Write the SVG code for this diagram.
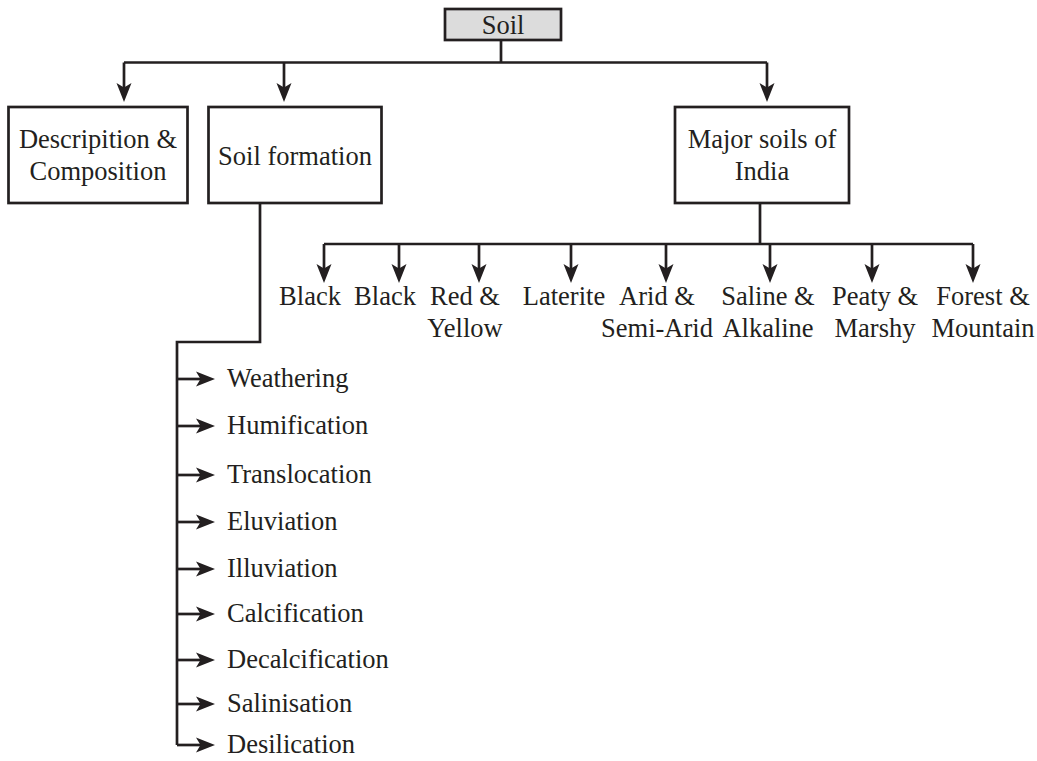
<svg xmlns="http://www.w3.org/2000/svg" width="1037" height="761" viewBox="0 0 1037 761">
  <style>
    .box { fill: #ffffff; stroke: #231f20; stroke-width: 2.7; }
    .root { fill: #dcdcdc; stroke: #231f20; stroke-width: 2.7; }
    .wire { fill: none; stroke: #231f20; stroke-width: 2.7; }
    .arr { fill: none; stroke: #231f20; stroke-width: 2.7; marker-end: url(#head); }
    text { font-family: "Liberation Serif", "Times New Roman", serif; font-size: 26.5px; fill: #231f20; }
    .c { text-anchor: middle; }
  </style>
  <defs>
    <marker id="head" markerUnits="userSpaceOnUse" viewBox="-14 -9 24 18" markerWidth="24" markerHeight="18" refX="0" refY="0" orient="auto">
      <path d="M8,0 L-11,-7.5 L-6.5,0 L-11,7.5 Z" fill="#231f20"/>
    </marker>
  </defs>

  <g id="connectors">
    <!-- root to first level -->
    <path class="wire" d="M501,40 V62.5 M124,62.5 H767"/>
    <path class="arr" d="M124,62.5 V94"/>
    <path class="arr" d="M284,62.5 V94"/>
    <path class="arr" d="M767,62.5 V94"/>
    <!-- major soils fan-out -->
    <path class="wire" d="M760,203 V244 M324,244 H973"/>
    <path class="arr" d="M324,244 V275"/>
    <path class="arr" d="M399,244 V275"/>
    <path class="arr" d="M479,244 V275"/>
    <path class="arr" d="M571,244 V275"/>
    <path class="arr" d="M666,244 V275"/>
    <path class="arr" d="M770,244 V275"/>
    <path class="arr" d="M872,244 V275"/>
    <path class="arr" d="M973,244 V275"/>
    <!-- soil formation processes -->
    <path class="wire" d="M260,203 V342 H177 V745"/>
    <path class="arr" d="M177,379 H207"/>
    <path class="arr" d="M177,426 H207"/>
    <path class="arr" d="M177,475 H207"/>
    <path class="arr" d="M177,522 H207"/>
    <path class="arr" d="M177,569 H207"/>
    <path class="arr" d="M177,614 H207"/>
    <path class="arr" d="M177,660 H207"/>
    <path class="arr" d="M177,704 H207"/>
    <path class="arr" d="M177,745 H207"/>
  </g>

  <g id="soil">
    <rect class="root" x="445" y="9" width="116" height="31"/>
    <text class="c" x="503" y="34">Soil</text>
  </g>

  <g id="description">
    <rect class="box" x="8.5" y="107" width="179" height="96"/>
    <text class="c" x="98" y="148">Descripition &amp;</text>
    <text class="c" x="98" y="180">Composition</text>
  </g>

  <g id="formation">
    <rect class="box" x="208.5" y="107" width="173" height="96"/>
    <text class="c" x="295" y="165">Soil formation</text>
  </g>

  <g id="major">
    <rect class="box" x="675" y="107" width="174" height="96"/>
    <text class="c" x="762" y="148">Major soils of</text>
    <text class="c" x="762" y="180">India</text>
  </g>

  <g id="soil-types">
    <text class="c" x="310" y="305">Black</text>
    <text class="c" x="385" y="305">Black</text>
    <text class="c" x="465" y="305">Red &amp;</text>
    <text class="c" x="465" y="337">Yellow</text>
    <text class="c" x="564" y="305">Laterite</text>
    <text class="c" x="657" y="305">Arid &amp;</text>
    <text class="c" x="657" y="337">Semi-Arid</text>
    <text class="c" x="768" y="305">Saline &amp;</text>
    <text class="c" x="768" y="337">Alkaline</text>
    <text class="c" x="875" y="305">Peaty &amp;</text>
    <text class="c" x="875" y="337">Marshy</text>
    <text class="c" x="983" y="305">Forest &amp;</text>
    <text class="c" x="983" y="337">Mountain</text>
  </g>

  <g id="processes">
    <text x="227" y="387">Weathering</text>
    <text x="227" y="434">Humification</text>
    <text x="227" y="483">Translocation</text>
    <text x="227" y="530">Eluviation</text>
    <text x="227" y="577">Illuviation</text>
    <text x="227" y="622">Calcification</text>
    <text x="227" y="668">Decalcification</text>
    <text x="227" y="712">Salinisation</text>
    <text x="227" y="753">Desilication</text>
  </g>
</svg>
